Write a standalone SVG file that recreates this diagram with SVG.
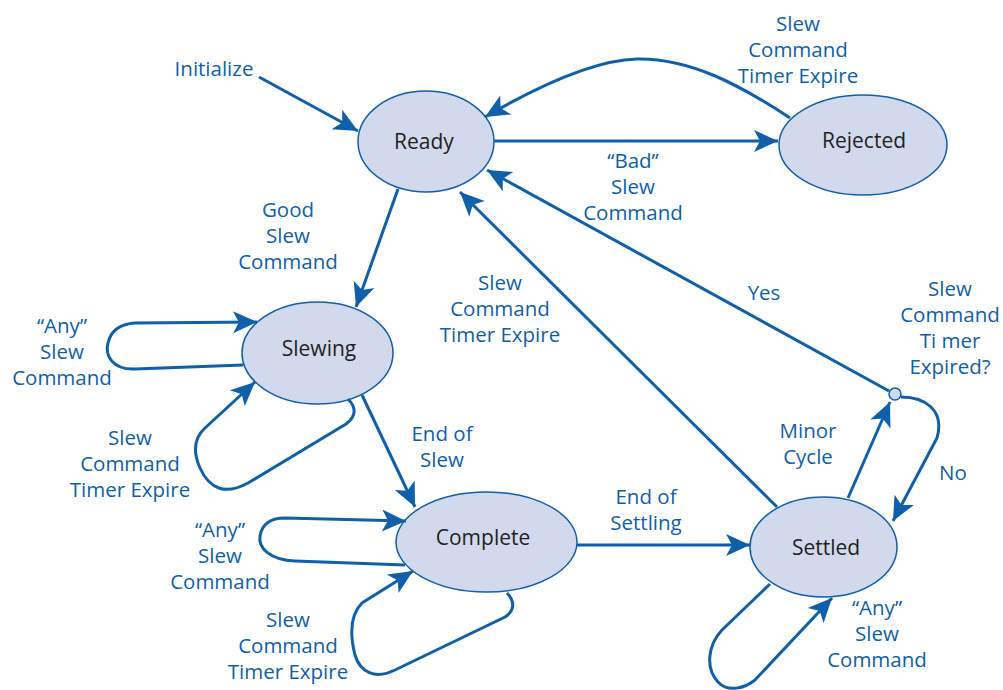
<svg xmlns="http://www.w3.org/2000/svg" width="1003" height="690" viewBox="0 0 1003 690">
<style>
.node ellipse{fill:#d3d9ec;stroke:#0f5fab;stroke-width:1.5}
.node text{font-family:"Open Sans","Liberation Sans",sans-serif;font-size:21px;fill:#231f20;text-anchor:middle}
.lbl{font-family:"Open Sans","Liberation Sans",sans-serif;font-size:20.5px;fill:#0f5fab;text-anchor:middle}
.conn path{fill:none;stroke:#0f5fab;stroke-width:3;marker-end:url(#ah)}
</style>
<defs>
<marker id="ah" markerUnits="userSpaceOnUse" markerWidth="30" markerHeight="30" viewBox="-26 -13 30 26" refX="0" refY="0" orient="auto">
<path d="M0,0 L-24,-11 L-18,0 L-24,11 Z" fill="#0f5fab"/>
</marker>
</defs>

<g id="node-ready" class="node"><ellipse cx="426" cy="141.5" rx="68" ry="50.5"/><text x="424" y="149">Ready</text></g>
<g id="node-rejected" class="node"><ellipse cx="863" cy="145" rx="84" ry="50"/><text x="864" y="148">Rejected</text></g>
<g id="node-slewing" class="node"><ellipse cx="317.5" cy="353" rx="75.5" ry="51"/><text x="319" y="356">Slewing</text></g>
<g id="node-complete" class="node"><ellipse cx="486.5" cy="542" rx="90.5" ry="50"/><text x="483" y="545">Complete</text></g>
<g id="node-settled" class="node"><ellipse cx="823.5" cy="547" rx="73.5" ry="50"/><text x="826" y="555">Settled</text></g>
<g id="node-choice"><circle cx="895" cy="394" r="6" fill="#d3d9ec" stroke="#0f5fab" stroke-width="1.5"/></g>

<g id="connectors" class="conn">
<path d="M259,77 L358,131"/>
<path d="M494,141 L778,141"/>
<path d="M790,118 C740,85 690,58 637,59 C595,60 540,85 485,117"/>
<path d="M398,189 L356,307"/>
<path d="M362,395 L415,507"/>
<path d="M577,545 L750,545"/>
<path d="M777,507 L460,192"/>
<path d="M889,391 L487,170"/>
<path d="M848,498 L890,402"/>
<path d="M901,397 C925,397 945,410 937,438 L893,521"/>
<path d="M770,584 L722,630 C708,645 705,668 718,682 C728,693 745,688 755,680 L832,598"/>
<path d="M243,365 L135,369 C112,370 105,355 108,343 C111,330 120,324 135,323 L257,322"/>
<path d="M348,399 C356,407 357,416 346,424 L248,483 C226,495 210,490 200,468 C193,452 194,438 205,428 L255,382"/>
<path d="M405,565 L295,561 C270,560 258,548 260,536 C262,524 270,518 285,518 L406,521"/>
<path d="M507,593 C514,600 516,610 505,617 L395,670 C375,680 360,672 355,655 C350,635 350,615 362,603 L413,571"/>
</g>

<g id="labels">
<text class="lbl" x="214" y="76">Initialize</text>
<text class="lbl" x="798" y="31">Slew</text>
<text class="lbl" x="798" y="57">Command</text>
<text class="lbl" x="798" y="83">Timer Expire</text>
<text class="lbl" x="633" y="168">“Bad”</text>
<text class="lbl" x="633" y="194">Slew</text>
<text class="lbl" x="633" y="220">Command</text>
<text class="lbl" x="288" y="217">Good</text>
<text class="lbl" x="288" y="243">Slew</text>
<text class="lbl" x="288" y="269">Command</text>
<text class="lbl" x="500" y="290">Slew</text>
<text class="lbl" x="500" y="316">Command</text>
<text class="lbl" x="500" y="342">Timer Expire</text>
<text class="lbl" x="764" y="300">Yes</text>
<text class="lbl" x="950" y="296">Slew</text>
<text class="lbl" x="950" y="322">Command</text>
<text class="lbl" x="950" y="348">Ti mer</text>
<text class="lbl" x="950" y="374">Expired?</text>
<text class="lbl" x="62" y="333">“Any”</text>
<text class="lbl" x="62" y="359">Slew</text>
<text class="lbl" x="62" y="385">Command</text>
<text class="lbl" x="130" y="445">Slew</text>
<text class="lbl" x="130" y="471">Command</text>
<text class="lbl" x="130" y="497">Timer Expire</text>
<text class="lbl" x="442" y="441">End of</text>
<text class="lbl" x="442" y="467">Slew</text>
<text class="lbl" x="220" y="537">“Any”</text>
<text class="lbl" x="220" y="563">Slew</text>
<text class="lbl" x="220" y="589">Command</text>
<text class="lbl" x="288" y="627">Slew</text>
<text class="lbl" x="288" y="653">Command</text>
<text class="lbl" x="288" y="679">Timer Expire</text>
<text class="lbl" x="646" y="504">End of</text>
<text class="lbl" x="646" y="530">Settling</text>
<text class="lbl" x="808" y="438">Minor</text>
<text class="lbl" x="808" y="464">Cycle</text>
<text class="lbl" x="953" y="480">No</text>
<text class="lbl" x="877" y="615">“Any”</text>
<text class="lbl" x="877" y="641">Slew</text>
<text class="lbl" x="877" y="667">Command</text>
</g>
</svg>
